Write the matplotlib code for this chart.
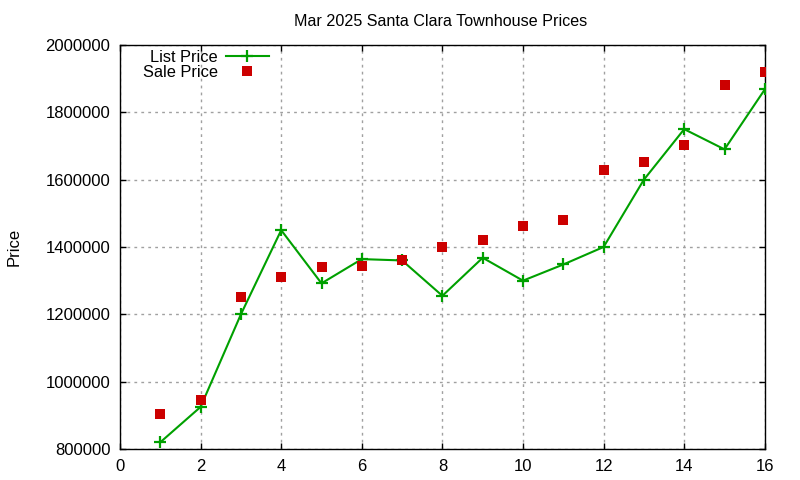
import matplotlib
matplotlib.use("Agg")
import matplotlib.pyplot as plt
from matplotlib.ticker import MultipleLocator, FuncFormatter

plt.rcParams['font.family'] = ['Liberation Sans', 'DejaVu Sans']

months = [1, 2, 3, 4, 5, 6, 7, 8, 9, 10, 11, 12, 13, 14, 15, 16]
list_price = [820000, 925000, 1200000, 1450000, 1292000, 1364000, 1360000, 1255000,
              1368000, 1300000, 1348000, 1400000, 1600000, 1750000, 1690000, 1868000]
sale_price = [905000, 945000, 1252000, 1312000, 1342000, 1345000, 1360000, 1400000,
              1422000, 1461000, 1479000, 1630000, 1651000, 1704000, 1882000, 1920000]

title = "Mar 2025 Santa Clara Townhouse Prices"

fig = plt.figure(figsize=(8, 4.8), dpi=100)
ax = fig.add_axes([0.15, 0.0646, 0.806, 0.8417])

green = '#00a000'
red = '#cc0000'

ax.plot(months, list_price, color=green, lw=1.5, marker='+', markersize=8,
        markeredgewidth=1.6, label='List Price', zorder=3)
ax.plot(months, sale_price, linestyle='none', color=red, marker='s', markersize=6.5,
        markeredgewidth=0, label='Sale Price', zorder=4)

ax.set_xlim(0, 16)
ax.set_ylim(800000, 2000000)
ax.xaxis.set_major_locator(MultipleLocator(2))
ax.yaxis.set_major_locator(MultipleLocator(200000))
ax.yaxis.set_major_formatter(FuncFormatter(lambda v, p: f"{int(round(v))}"))

ax.grid(True, color='#a0a0a0', linestyle=(0, (2, 3)), linewidth=1)
ax.set_axisbelow(True)
ax.tick_params(direction='in', length=4.5, width=1, top=True, right=True,
               labelsize=12, colors='black', pad=7)
for s in ax.spines.values():
    s.set_linewidth(1)
    s.set_color('black')

ax.set_ylabel('Price', fontsize=12)
ax.yaxis.set_label_coords(-0.153, 0.5)
fig.text(0.551, 0.956, title, ha='center', va='center', fontsize=11.6)

leg = ax.legend(loc='upper left', bbox_to_anchor=(0.02, 1.013), frameon=False,
                markerfirst=False, fontsize=11.8, handlelength=2.6,
                handletextpad=0.5, labelspacing=0.0, borderaxespad=0.2)

fig.savefig('out.png', dpi=100)
